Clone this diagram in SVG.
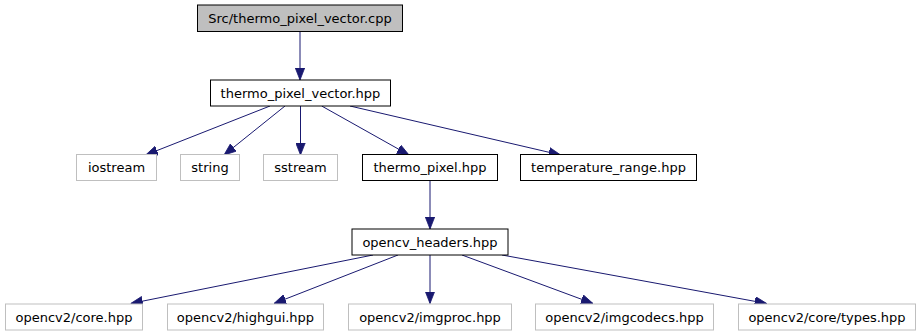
<svg xmlns="http://www.w3.org/2000/svg" width="921" height="336" viewBox="0 0 921 336">
  <style>
    .node rect { stroke-width: 1; }
    .doc rect { fill: #ffffff; stroke: #000000; }
    .root rect { fill: #bfbfbf; stroke: #000000; }
    .ext rect { fill: #ffffff; stroke: #bfbfbf; }
    .node text { font-family: "DejaVu Sans", sans-serif; font-size: 13px; fill: #000000; text-anchor: middle; }
    .edges line { stroke: #191970; stroke-width: 1; fill: none; marker-end: url(#arrow); }
  </style>
  <defs>
    <marker id="arrow" viewBox="0 0 12 10" refX="12" refY="5" markerWidth="12" markerHeight="10" markerUnits="userSpaceOnUse" orient="auto">
      <path d="M0,0.3 L12,5 L0,9.7 Z" fill="#191970" stroke="#191970" stroke-width="0.8"/>
    </marker>
  </defs>
  <rect width="921" height="336" fill="#ffffff"/>

  <g class="edges">
    <line x1="300" y1="31.5" x2="300" y2="80"/>
    <line x1="270" y1="106" x2="145.7" y2="155"/>
    <line x1="285" y1="106" x2="224" y2="155"/>
    <line x1="300.5" y1="106" x2="300.5" y2="155"/>
    <line x1="321.7" y1="106" x2="409" y2="155"/>
    <line x1="350" y1="106" x2="560.7" y2="155"/>
    <line x1="430" y1="180.5" x2="430" y2="229"/>
    <line x1="373" y1="255" x2="130.7" y2="303.5"/>
    <line x1="398" y1="255" x2="274" y2="303.5"/>
    <line x1="430" y1="255" x2="430" y2="303.5"/>
    <line x1="462" y1="255" x2="593" y2="303.5"/>
    <line x1="502" y1="255" x2="766.7" y2="303.5"/>
  </g>

  <g id="node-src-cpp" class="node root">
    <rect x="197.5" y="5" width="205" height="26.5"/>
    <text x="300" y="22.5">Src/thermo_pixel_vector.cpp</text>
  </g>
  <g id="node-thermo-pixel-vector" class="node doc">
    <rect x="210.5" y="80" width="180" height="26"/>
    <text x="300.5" y="97.5">thermo_pixel_vector.hpp</text>
  </g>
  <g id="node-iostream" class="node ext">
    <rect x="76.5" y="154.5" width="80" height="26"/>
    <text x="116.5" y="172">iostream</text>
  </g>
  <g id="node-string" class="node ext">
    <rect x="180.5" y="154.5" width="59" height="26"/>
    <text x="210" y="172">string</text>
  </g>
  <g id="node-sstream" class="node ext">
    <rect x="263.5" y="154.5" width="74" height="26"/>
    <text x="300.5" y="172">sstream</text>
  </g>
  <g id="node-thermo-pixel" class="node doc">
    <rect x="362.5" y="154.5" width="135" height="26"/>
    <text x="430" y="172">thermo_pixel.hpp</text>
  </g>
  <g id="node-temperature-range" class="node doc">
    <rect x="520.5" y="154.5" width="176" height="26"/>
    <text x="608.5" y="172">temperature_range.hpp</text>
  </g>
  <g id="node-opencv-headers" class="node doc">
    <rect x="352" y="229" width="156" height="26"/>
    <text x="430" y="246.5">opencv_headers.hpp</text>
  </g>
  <g id="node-core" class="node ext">
    <rect x="5.5" y="304" width="137" height="26"/>
    <text x="74" y="321.5">opencv2/core.hpp</text>
  </g>
  <g id="node-highgui" class="node ext">
    <rect x="167.5" y="304" width="156" height="26"/>
    <text x="245.5" y="321.5">opencv2/highgui.hpp</text>
  </g>
  <g id="node-imgproc" class="node ext">
    <rect x="348.5" y="304" width="163" height="26"/>
    <text x="430" y="321.5">opencv2/imgproc.hpp</text>
  </g>
  <g id="node-imgcodecs" class="node ext">
    <rect x="535.5" y="304" width="178" height="26"/>
    <text x="624.5" y="321.5">opencv2/imgcodecs.hpp</text>
  </g>
  <g id="node-types" class="node ext">
    <rect x="738.5" y="304" width="177" height="26"/>
    <text x="827" y="321.5">opencv2/core/types.hpp</text>
  </g>
</svg>
